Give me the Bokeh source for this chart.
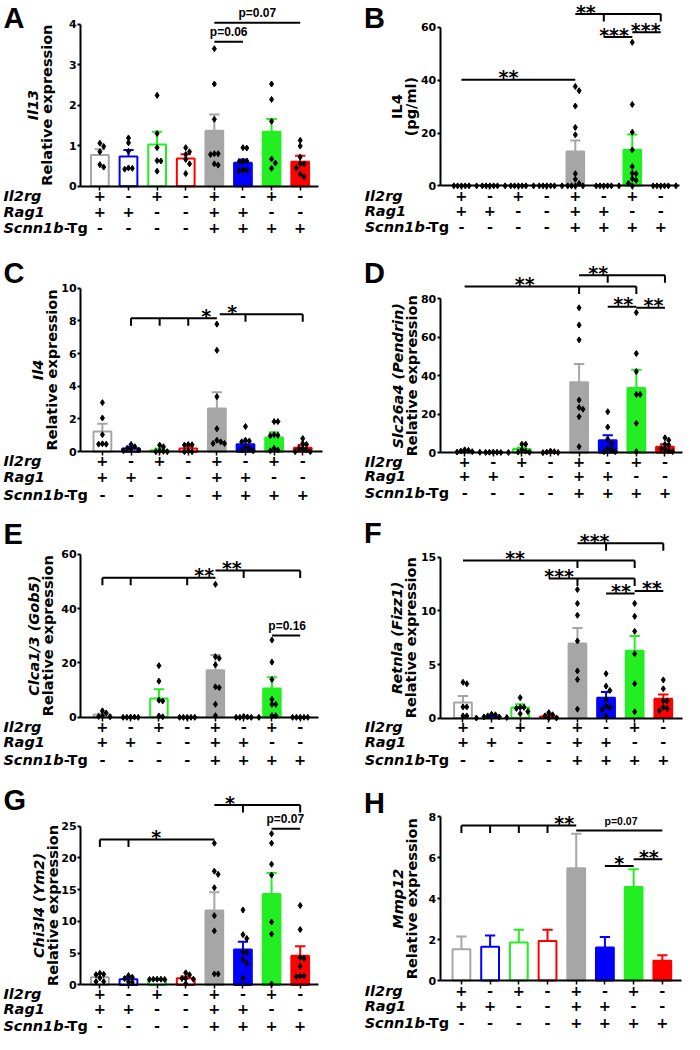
import math
from bokeh.plotting import figure
from bokeh.layouts import column, row
from bokeh.models import Range1d, LinearAxis, FixedTicker, ColumnDataSource
from bokeh.core.properties import value
from bokeh.embed import file_html
from bokeh.resources import INLINE

# ---------------- genotype table ----------------
IL2RG = ["+", "-", "+", "-", "+", "-", "+", "-"]
RAG1 = ["+", "+", "-", "-", "+", "+", "-", "-"]
SCNN1B = ["-", "-", "-", "-", "+", "+", "+", "+"]
GROUP_COLORS = ["#a6a6a6", "#0000ff", "#22ee22", "#ff0000"] * 2
FILLED = [False] * 4 + [True] * 4

# ---------------- data ----------------
A_MEAN = [0.77, 0.73, 1.03, 0.68, 1.37, 0.58, 1.34, 0.60]
A_SEM = [0.14, 0.16, 0.31, 0.11, 0.40, 0.08, 0.32, 0.15]
A_PTS = [[1.06, 0.98, 0.85, 0.53, 0.47],
         [1.19, 1.07, 0.86, 0.45, 0.44, 0.42],
         [2.24, 1.30, 0.95, 0.63, 0.62, 0.37],
         [0.95, 0.85, 0.78, 0.66, 0.55, 0.31],
         [3.39, 2.52, 1.65, 0.80, 0.78, 0.55, 0.52, 0.80],
         [0.95, 0.94, 0.62, 0.62, 0.60, 0.40, 0.39, 0.38],
         [2.52, 2.14, 1.60, 0.67, 0.57, 0.44],
         [1.13, 0.99, 0.72, 0.55, 0.55, 0.45, 0.30, 0.23]]

B_MEAN = [0, 0, 0, 0, 13.0, 0, 13.7, 0]
B_SEM = [0, 0, 0, 0, 4.2, 0, 5.7, 0]
B_PTS = [[0, 0, 0, 0, 0, 0], [0, 0, 0, 0, 0, 0], [0, 0, 0, 0, 0, 0], [0, 0, 0, 0, 0, 0],
         [37.6, 36.0, 30.2, 22.1, 19.3, 4.6, 2.5, 0.9, 0, 0, 0, 0],
         [0, 0, 0, 0, 0, 0],
         [54.3, 30.8, 20.3, 13.6, 7.3, 4.8, 4.6, 2.7, 2.1, 1.0, 0],
         [0, 0, 0, 0, 0, 0]]

C_MEAN = [1.24, 0.20, 0.08, 0.20, 2.64, 0.46, 0.86, 0.24]
C_SEM = [0.46, 0.10, 0.12, 0.10, 1.00, 0.18, 0.32, 0.16]
C_PTS = [[3.0, 2.06, 1.04, 0.48, 0.46, 0.46],
         [0.44, 0.30, 0.20, 0.15, 0.10, 0.05],
         [0.40, 0.30, 0.05, 0.02, 0.0, 0.0],
         [0.44, 0.42, 0.40, 0.05, 0.0, 0.0],
         [7.8, 6.2, 3.36, 1.4, 0.7, 0.6, 0.5, 0.5],
         [1.54, 0.70, 0.65, 0.60, 0.30, 0.20, 0.10, 0.05],
         [1.84, 1.84, 1.04, 1.00, 0.98, 0.20, 0.10, 0.05],
         [0.80, 0.50, 0.44, 0.20, 0.20, 0.10, 0.0, 0.0]]

D_MEAN = [0.5, 0.2, 1.9, 0.3, 36.6, 6.5, 33.7, 3.1]
D_SEM = [0.3, 0.05, 0.8, 0.15, 9.5, 2.5, 9.4, 1.2]
D_PTS = [[1.5, 1.2, 0.8, 0.5, 0.3, 0.2],
         [0.3, 0.2, 0.2, 0.1, 0.1, 0.1],
         [4.4, 4.4, 1.5, 0.8, 0.3, 0.2],
         [0.8, 0.5, 0.3, 0.1, 0.0],
         [75.4, 66.4, 58.7, 27.4, 23.5, 22.6, 18.7, 3.1],
         [21.3, 13.3, 7.0, 4.8, 2.2, 1.4, 0.5, 0.5],
         [72.9, 51.6, 42.2, 30.3, 30.3, 15.3, 0.5],
         [7.7, 6.5, 4.3, 3.9, 2.2, 1.9, 0.9, 0.5]]

E_MEAN = [1.0, 0.0, 6.9, 0.0, 17.3, 0.1, 10.6, 0.0]
E_SEM = [0.4, 0.0, 3.4, 0.0, 5.6, 0.05, 4.1, 0.0]
E_PTS = [[2.4, 1.6, 0.6, 0.3, 0.2],
         [0.1, 0.0, 0.0, 0.0, 0.1],
         [19.0, 13.3, 6.3, 6.0, 0.5, 0.2],
         [0.0, 0.0, 0.0, 0.0, 0.0],
         [48.9, 22.3, 21.7, 19.3, 11.2, 10.9, 4.8, 0.6],
         [0.3, 0.1, 0.0, 0.0, 0.0, 0.0],
         [28.4, 20.3, 13.9, 6.6, 4.8, 4.8, 0.6, 0.6],
         [0.0, 0.0, 0.0, 0.0, 0.0]]

F_MEAN = [1.44, 0.12, 0.98, 0.15, 6.96, 1.90, 6.29, 1.81]
F_SEM = [0.62, 0.08, 0.31, 0.15, 1.44, 0.52, 1.38, 0.39]
F_PTS = [[3.34, 3.2, 1.04, 1.04, 0.2, 0.2],
         [0.35, 0.3, 0.2, 0.1, 0.1, 0.05, 0.0],
         [1.9, 1.0, 1.0, 0.9, 0.6, 0.4],
         [0.5, 0.3, 0.2, 0.0, 0.0],
         [12.0, 10.7, 9.6, 7.2, 4.4, 3.6, 0.83],
         [4.14, 2.98, 2.58, 1.75, 1.13, 0.98, 0.77, 0.21],
         [10.7, 9.5, 8.1, 6.0, 3.2, 0.58],
         [3.56, 2.73, 1.6, 1.6, 1.0, 0.9, 0.68]]

G_MEAN = [1.2, 0.9, 0.8, 1.04, 11.7, 5.57, 14.3, 4.6]
G_SEM = [0.5, 0.3, 0.1, 0.26, 2.9, 1.23, 3.3, 1.5]
G_PTS = [[1.82, 1.67, 1.6, 1.1, 0.52, 0.5],
         [1.46, 1.2, 1.0, 0.5, 0.4],
         [0.9, 0.9, 0.9, 0.85, 0.85],
         [1.9, 1.6, 1.0, 1.0, 0.9, 0.2],
         [22.3, 17.9, 17.4, 15.3, 10.9, 8.5, 1.72, 1.72],
         [11.8, 7.9, 7.3, 5.2, 5.05, 4.0, 3.4, 1.04],
         [23.8, 22.3, 19.0, 17.3, 9.9, 8.0, 0.15],
         [12.5, 8.7, 4.3, 4.2, 2.9, 1.4, 1.4, 1.3]]

H_MEAN = [1.53, 1.65, 1.86, 1.94, 5.49, 1.62, 4.57, 0.97]
H_SEM = [0.63, 0.55, 0.63, 0.55, 1.68, 0.51, 0.87, 0.27]
H_PTS = [[] for _ in range(8)]

# significance brackets: (from group, to group, height, drop ticks at, label, label position)
A_SIG = [(5, 6, 3.56, [], "p=0.06", 5.5), (5, 8, 4.03, [], "p=0.07", 6.5)]
B_SIG = [(1, 5, 40.1, [], "**", 2.65), (5, 8, 65.0, [6, 8], "**", 5.37),
         (6, 7, 56.3, [], "***", 6.36), (7, 8, 58.1, [], "***", 7.47)]
C_SIG = [(2, 5, 8.16, [2, 3, 4], "*", 4.63), (5.1, 8, 8.4, [6, 8], "*", 5.54)]
D_SIG = [(1, 7, 86.5, [5, 7], "**", 3.1), (5, 8, 92.4, [6, 8], "**", 5.67),
         (6, 7, 75.9, [], "**", 6.54), (7, 8, 75.4, [], "**", 7.6)]
E_SIG = [(1, 5, 51.3, [1, 2, 4], "**", 4.6), (5, 8, 54.0, [6, 8], "**", 5.58),
         (7, 8, 30.1, [], "p=0.16", 7.54)]
F_SIG = [(1, 7, 14.72, [5, 7], "**", 2.82), (5, 8, 16.32, [6, 8], "***", 5.6),
         (4, 7, 13.04, [5, 7], "***", 4.36), (6, 7, 11.63, [], "**", 6.52),
         (7, 8, 11.87, [], "**", 7.6)]
G_SIG = [(1, 5, 22.9, [1, 2], "*", 2.97), (5, 8, 28.3, [6, 8], "*", 5.55),
         (7, 8, 24.6, [], "p=0.07", 7.48)]
H_SIG = [(1, 5, 7.58, [1, 2, 3, 4], "**", 4.58), (5, 8, 7.33, [], "p=0.07", 6.56),
         (6, 7, 5.6, [], "*", 6.5), (7, 8, 5.93, [], "**", 7.53)]

TITLES = {
    "A": ("Il13", "bold italic", "Relative expression"),
    "B": ("IL4", "bold", "(pg/ml)"),
    "C": ("Il4", "bold italic", "Relative expression"),
    "D": ("Slc26a4 (Pendrin)", "bold italic", "Relative expression"),
    "E": ("Clca1/3 (Gob5)", "bold italic", "Relative expression"),
    "F": ("Retnla (Fizz1)", "bold italic", "Relative expression"),
    "G": ("Chi3l4 (Ym2)", "bold italic", "Relative expression"),
    "H": ("Mmp12", "bold italic", "Relative expression"),
}

# ---------------- layout (reference pixel geometry) ----------------
ROW_H = [255, 255, 261, 263]
REF_ROW_H = [260, 260, 265, 265]
PANEL_W = 342
REF_W = 350
FONT = "DejaVu Sans"

LAYOUT = {
    "A": dict(row=0, axis=82, b1=101.7, b8=306.7, xend=325, zero=189.3, ytop=24, ymax=4, tick=1,
              lx=3, lc=18, labx=3, gl=(33.5, 47.5), psize=12, roffs=(10.5, 26, 43)),
    "B": dict(row=0, axis=100, b1=121.7, b8=325.7, xend=345, zero=189, ytop=27.3, ymax=60, tick=20,
              lx=22, lc=18, labx=22.7, gl=(56, 70), psize=12, roffs=(10.5, 26, 42)),
    "C": dict(row=1, axis=82, b1=104.3, b8=309.3, xend=330, zero=200, ytop=33.3, ymax=10, tick=2,
              lx=3, lc=17.5, labx=3, gl=(38.5, 52.5), psize=12, roffs=(10, 26, 44)),
    "D": dict(row=1, axis=100, b1=125, b8=330, xend=348, zero=201, ytop=44.3, ymax=80, tick=20,
              lx=22, lc=18, labx=22.7, gl=(57, 71), psize=12, roffs=(9.5, 24, 41.5)),
    "E": dict(row=2, axis=82, b1=104.3, b8=306.7, xend=325, zero=210, ytop=44.3, ymax=60, tick=20,
              lx=3, lc=24, labx=3, gl=(34.5, 48.5), psize=12, roffs=(10, 25, 43)),
    "F": dict(row=2, axis=100, b1=123.3, b8=328.3, xend=348, zero=210.7, ytop=47.7, ymax=15, tick=5,
              lx=22, lc=22.5, labx=22.7, gl=(56, 70), psize=12, roffs=(9.5, 24.5, 43)),
    "G": dict(row=3, axis=82, b1=101.7, b8=306.7, xend=325, zero=215, ytop=55, ymax=25, tick=5,
              lx=3, lc=29, labx=3, gl=(39.5, 53.5), psize=12, roffs=(9, 24, 41)),
    "H": dict(row=3, axis=100, b1=121.7, b8=327.3, xend=347, zero=210.7, ytop=45.7, ymax=8, tick=2,
              lx=22, lc=32, labx=22.7, gl=(57, 71), psize=10.5, roffs=(10, 25.3, 43)),
}


def swarm(vals, upp, step_px, d=3.8, dy=4.5):
    order = sorted(range(len(vals)), key=lambda i: -vals[i])
    placed = []
    offs = [0.0] * len(vals)
    for i in order:
        ypx = vals[i] / upp
        cand = 0.0
        for k in range(0, 30):
            cand = 0.0 if k == 0 else ((k + 1) // 2) * d * (1 if k % 2 else -1)
            if all(not (abs(cand - px) < d and abs(ypx - py) < dy) for px, py in placed):
                break
        placed.append((cand, ypx))
        offs[i] = cand / step_px
    return offs


def make_panel(letter, means, sems, pts, sigs):
    L = LAYOUT[letter]
    W = PANEL_W
    H = ROW_H[L["row"]]
    sx = W / REF_W
    sy = H / REF_ROW_H[L["row"]]
    b1 = L["b1"] * sx
    b8 = L["b8"] * sx
    step = (b8 - b1) / 7.0
    zero = L["zero"] * sy
    top = L["ytop"] * sy
    upp = L["ymax"] / (zero - top)

    def X(px):
        return 1 + (px - b1) / step

    def Y(py):
        return (zero - py) * upp

    def RX(r):
        return X(r * sx)

    def RY(r):
        return Y(r * sy)

    p = figure(width=W, height=H, x_range=Range1d(X(0), X(W)), y_range=Range1d(Y(H), Y(0)),
               x_axis_type=None, y_axis_type=None, toolbar_location=None,
               output_backend="svg", min_border=0, outline_line_color=None,
               background_fill_color="white", border_fill_color="white")

    xs = list(range(1, 9))
    src = ColumnDataSource(dict(
        x=xs, top=means,
        fill=[c if f else "white" for c, f in zip(GROUP_COLORS, FILLED)],
        line=GROUP_COLORS))
    p.vbar(x="x", top="top", bottom=0, width=0.62, fill_color="fill",
           line_color="line", line_width=2, source=src)

    # error bars (upper SEM)
    etop = [m + s for m, s in zip(means, sems)]
    p.segment(x0=xs, y0=means, x1=xs, y1=etop, line_color=GROUP_COLORS, line_width=2)
    p.segment(x0=[x - 0.18 for x in xs], y0=etop, x1=[x + 0.18 for x in xs], y1=etop,
              line_color=GROUP_COLORS, line_width=2)

    # individual points
    px_, py_ = [], []
    for i, vals in enumerate(pts):
        offs = swarm(vals, upp, step)
        for v, o in zip(vals, offs):
            px_.append(xs[i] + o)
            py_.append(v)
    if px_:
        p.scatter(px_, py_, marker="diamond", size=6, color="black")

    # axes
    yticks = list(range(0, L["ymax"] + 1, L["tick"]))
    yax = LinearAxis(fixed_location=RX(L["axis"]), bounds=(0, L["ymax"]),
                     ticker=FixedTicker(ticks=yticks),
                     axis_line_width=2, major_tick_line_width=2,
                     major_tick_in=0, major_tick_out=3,
                     minor_tick_line_color=None, major_label_standoff=1,
                     major_label_text_font=FONT, major_label_text_font_style="bold",
                     major_label_text_font_size="11px", major_label_text_color="black")
    p.add_layout(yax, "left")
    xax = LinearAxis(fixed_location=0, bounds=(RX(L["axis"]), RX(L["xend"])),
                     ticker=FixedTicker(ticks=xs), axis_line_width=2,
                     major_tick_line_width=1.5, major_tick_in=0, major_tick_out=4,
                     minor_tick_line_color=None, major_label_text_color=None)
    p.add_layout(xax, "below")

    # significance brackets
    drop = 7.5
    for (x0, x1, y, ticks, lab, lx) in sigs:
        sx0, sy0, sx1, sy1 = [x0], [y], [x1], [y]
        for t in ticks:
            sx0.append(t)
            sy0.append(y)
            sx1.append(t)
            sy1.append(y - drop * upp)
        p.segment(x0=sx0, y0=sy0, x1=sx1, y1=sy1, line_color="black", line_width=2)
        if lab.startswith("p"):
            p.text(x=[lx], y=[y + 9.5 * upp], text=[lab], text_align="center",
                   text_baseline="middle", text_font=value("Liberation Sans"),
                   text_font_style="bold", text_font_size="%spx" % L["psize"], text_color="black")
        else:
            p.text(x=[lx], y=[y + 2.5 * upp], text=[lab], text_align="center",
                   text_baseline="middle", text_font=value(FONT),
                   text_font_style="bold", text_font_size="19px", text_color="black")

    # genotype table
    rows = [("Il2rg", IL2RG), ("Rag1", RAG1), ("Scnn1b", SCNN1B)]
    for k, (lab, signs) in enumerate(rows):
        yy = RY(L["zero"] + L["roffs"][k])
        p.text(x=xs, y=[yy] * 8, text=signs, text_align="center", text_baseline="middle",
               text_font=value(FONT), text_font_style="bold", text_font_size="14.5px",
               text_color="black")
        p.text(x=[RX(L["labx"])], y=[yy], text=[lab], text_align="left",
               text_baseline="middle", text_font=value(FONT),
               text_font_style="bold italic", text_font_size="14.5px", text_color="black")
    yy = RY(L["zero"] + L["roffs"][2])
    p.text(x=[X(L["labx"] * sx + 60.2)], y=[yy], text=["-Tg"], text_align="left",
           text_baseline="middle", text_font=value(FONT), text_font_style="bold",
           text_font_size="14.5px", text_color="black")

    # y-axis titles (two lines, rotated)
    gene, gstyle, second = TITLES[letter]
    mid = RY((L["zero"] + L["ytop"]) / 2.0)
    p.text(x=[RX(L["gl"][0])], y=[mid], text=[gene], angle=math.pi / 2, text_align="center",
           text_baseline="middle", text_font=value(FONT), text_font_style=gstyle,
           text_font_size="14.5px", text_color="black")
    p.text(x=[RX(L["gl"][1])], y=[mid], text=[second], angle=math.pi / 2, text_align="center",
           text_baseline="middle", text_font=value(FONT), text_font_style="bold",
           text_font_size="14.5px", text_color="black")

    # panel letter
    p.text(x=[RX(L["lx"])], y=[RY(L["lc"])], text=[letter], text_align="left",
           text_baseline="middle", text_font=value("Liberation Sans"), text_font_style="bold",
           text_font_size="29px", text_color="black")
    return p


pA = make_panel("A", A_MEAN, A_SEM, A_PTS, A_SIG)
pB = make_panel("B", B_MEAN, B_SEM, B_PTS, B_SIG)
pC = make_panel("C", C_MEAN, C_SEM, C_PTS, C_SIG)
pD = make_panel("D", D_MEAN, D_SEM, D_PTS, D_SIG)
pE = make_panel("E", E_MEAN, E_SEM, E_PTS, E_SIG)
pF = make_panel("F", F_MEAN, F_SEM, F_PTS, F_SIG)
pG = make_panel("G", G_MEAN, G_SEM, G_PTS, G_SIG)
pH = make_panel("H", H_MEAN, H_SEM, H_PTS, H_SIG)

layout = column(row(pA, pB), row(pC, pD), row(pE, pF), row(pG, pH))
open("out.html", "w").write(file_html(layout, INLINE))
